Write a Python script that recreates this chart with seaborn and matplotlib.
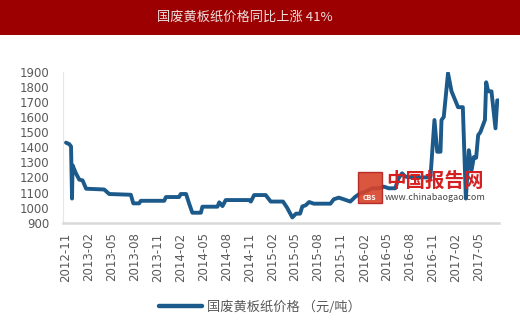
import matplotlib
matplotlib.use("Agg")
import matplotlib.pyplot as plt
from matplotlib.patches import Rectangle
import pandas as pd
import seaborn as sns

title = "国废黄板纸价格同比上涨 41%"
series_name = "国废黄板纸价格 （元/吨）"

dates = [
    "2012-11-01", "2012-11-14", "2012-11-21", "2012-11-25", "2012-11-27",
    "2012-12-11", "2012-12-24", "2013-01-06", "2013-01-20", "2013-04-02",
    "2013-04-22", "2013-07-17", "2013-07-27", "2013-08-19", "2013-08-26",
    "2013-11-27", "2013-12-04", "2014-01-25", "2014-02-01", "2014-02-22",
    "2014-03-06", "2014-03-19", "2014-04-22", "2014-04-28", "2014-06-27",
    "2014-07-04", "2014-07-17", "2014-07-30", "2014-10-31", "2014-11-07",
    "2014-11-20", "2015-01-05", "2015-01-25", "2015-03-15", "2015-03-31",
    "2015-04-21", "2015-05-06", "2015-05-22", "2015-05-31", "2015-06-13",
    "2015-06-27", "2015-07-16", "2015-09-20", "2015-10-03", "2015-10-23",
    "2015-11-12", "2015-12-08", "2015-12-28", "2016-01-17", "2016-02-06",
    "2016-03-03", "2016-03-30", "2016-04-19", "2016-05-09", "2016-06-04",
    "2016-06-17", "2016-07-01", "2016-07-14", "2016-08-09", "2016-10-22",
    "2016-11-07", "2016-11-18", "2016-12-01", "2016-12-05", "2016-12-14",
    "2016-12-31", "2017-01-14", "2017-02-09", "2017-02-28", "2017-03-12",
    "2017-03-24", "2017-04-04", "2017-04-13", "2017-04-22", "2017-04-30",
    "2017-05-09", "2017-05-19", "2017-05-27", "2017-06-01", "2017-06-09",
    "2017-06-22", "2017-07-08", "2017-07-15", "2017-07-21",
]
prices = [
    1430, 1420, 1405, 1060, 1280,
    1225, 1185, 1180, 1125, 1120,
    1090, 1085, 1028, 1028, 1045,
    1045, 1070, 1070, 1090, 1090,
    1028, 966, 966, 1006, 1006,
    1035, 1010, 1050, 1050, 1040,
    1083, 1083, 1040, 1040, 1000,
    935, 960, 960, 1008, 1015,
    1037, 1026, 1026, 1055, 1066,
    1055, 1040, 1072, 1095, 1105,
    1128, 1128, 1139, 1128, 1128,
    1194, 1227, 1205, 1200, 1200,
    1580, 1370, 1370, 1580, 1600,
    1890, 1770, 1665, 1665, 1060,
    1380, 1250, 1335, 1330, 1480,
    1500, 1545, 1580, 1830, 1770,
    1770, 1525, 1710, 1710,
]
tick_labels = [
    "2012-11", "2013-02", "2013-05", "2013-08", "2013-11", "2014-02",
    "2014-05", "2014-08", "2014-11", "2015-02", "2015-05", "2015-08",
    "2015-11", "2016-02", "2016-05", "2016-08", "2016-11", "2017-02",
    "2017-05",
]
y_ticks = [900, 1000, 1100, 1200, 1300, 1400, 1500, 1600, 1700, 1800, 1900]

sns.set_theme(style="white")
plt.rcParams["font.family"] = ["Noto Sans CJK SC", "DejaVu Sans"]

df = pd.DataFrame({"date": pd.to_datetime(dates), "price": prices})

fig = plt.figure(figsize=(5.2, 3.25), dpi=100)
ax = fig.add_axes([63 / 520, 1 - 222.7 / 325, (499 - 63) / 520, (222.7 - 71.7) / 325])

line_color = "#1b5a8a"
sns.lineplot(data=df, x="date", y="price", ax=ax, color=line_color,
             linewidth=2.8, label=series_name, zorder=3)

ax.set_ylim(900, 1900)
ax.set_yticks(y_ticks)
ax.set_yticklabels([str(v) for v in y_ticks], family="DejaVu Sans")
ax.set_xlim(pd.Timestamp("2012-10-20"), pd.Timestamp("2017-07-22"))
tick_dates = pd.to_datetime([t + "-01" for t in tick_labels])
ax.set_xticks(tick_dates)
ax.set_xticklabels(tick_labels, rotation=90, family="DejaVu Sans")
ax.set_xlabel("")
ax.set_ylabel("")

gray = "#595959"
ax.tick_params(axis="y", colors="#d9d9d9", labelcolor=gray, labelsize=8.5,
               length=3, width=0.8, direction="out", pad=7)
ax.tick_params(axis="x", colors="#d9d9d9", labelcolor=gray, labelsize=8.5,
               length=4, width=1, direction="out", pad=3)
for s in ["top", "right"]:
    ax.spines[s].set_visible(False)
ax.spines["bottom"].set_color("#d9d9d9")
ax.spines["bottom"].set_linewidth(1.8)
ax.spines["left"].set_color("#e6e6e6")
ax.spines["left"].set_linewidth(0.8)
ax.grid(False)

# legend
leg = ax.legend(loc="center", bbox_to_anchor=(0.5, 0.055),
                bbox_transform=fig.transFigure, frameon=False,
                fontsize=9.5, handlelength=3.3, handletextpad=0.4)
for t in leg.get_texts():
    t.set_color(gray)
for h in leg.get_lines():
    h.set_linewidth(3.2)

# banner title
fig.patches.append(Rectangle((0, 1 - 35 / 325), 1, 35 / 325,
                             transform=fig.transFigure, facecolor="#9c0000",
                             edgecolor="none", zorder=0))
fig.text(244.5 / 520, 1 - 17 / 325, title, ha="center", va="center",
         color="#efdede", fontsize=9.5)

# watermark
fig.patches.append(Rectangle((357.5 / 520, 1 - 203 / 325), 24 / 520, 31 / 325,
                             transform=fig.transFigure, facecolor="#d8432a",
                             edgecolor="#b02020", zorder=1, alpha=0.9))
fig.text(369.5 / 520, 1 - 197 / 325, "CBS", ha="center", va="center",
         color="white", fontsize=5, fontweight="bold", zorder=2)
fig.text(435 / 520, 1 - 181 / 325, "中国报告网", ha="center", va="center",
         color="#d42020", fontsize=14, fontweight="bold", zorder=2)
fig.text(435 / 520, 1 - 197.5 / 325, "www.chinabaogao.com", ha="center",
         va="center", color="#444444", fontsize=6.5, zorder=2)

fig.savefig("out.png", dpi=100)
